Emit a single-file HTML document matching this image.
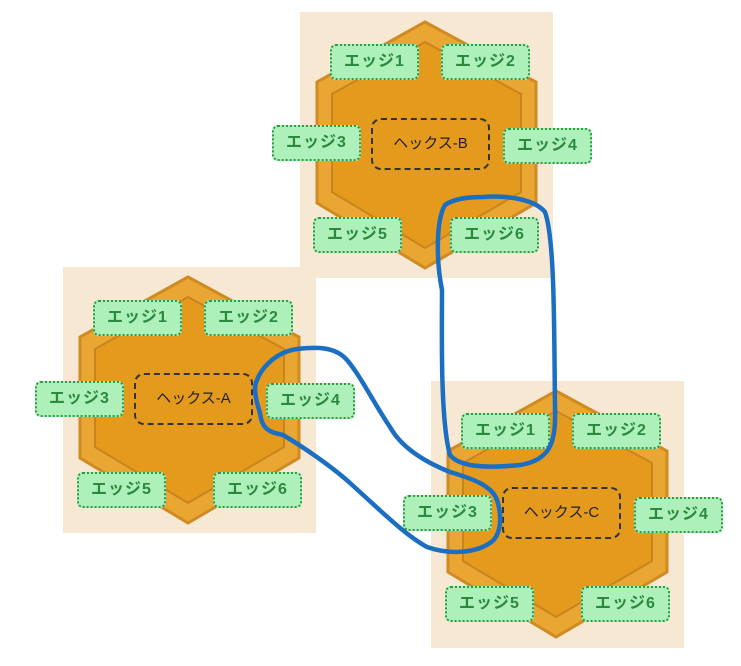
<!DOCTYPE html>
<html><head><meta charset="utf-8"><style>
body{margin:0;width:741px;height:666px;background:#fff;position:relative;overflow:hidden;font-family:"Liberation Sans","Noto Sans CJK JP",sans-serif}
.p{position:absolute;width:253px;height:266px;background:#f7e8d3}
.e{position:absolute;width:85px;height:32px;background:#adf0ba;border:2.5px dotted #2f9a45;border-radius:6px;color:#2b8a3e;font-size:16px;font-weight:600;line-height:32px;text-align:center;letter-spacing:1px}
.h{position:absolute;left:71px;top:106px;width:115px;height:48px;border:2px dashed #333;border-radius:10px;font-size:15px;line-height:48px;text-align:center;color:#222}
svg.hex{position:absolute;left:0;top:0}
</style></head><body>

<div class="p" style="left:300px;top:12px">
<svg class="hex" width="253" height="266"><polygon points="125,10 236,70 236,191 125,256 17,191 17,70" fill="#eaa632" stroke="#cf8a22" stroke-width="3"/><polygon points="125,30 221,82 221,180 125,236 32,180 32,82" fill="#e49a1c" stroke="#c98420" stroke-width="2"/></svg>
<div class="e" style="left:30px;top:32px">エッジ1</div><div class="e" style="left:141px;top:32px">エッジ2</div>
<div class="e" style="left:-28px;top:113px">エッジ3</div><div class="h">ヘックス-B</div>
<div class="e" style="left:203px;top:116px">エッジ4</div>
<div class="e" style="left:13px;top:205px">エッジ5</div><div class="e" style="left:150px;top:205px">エッジ6</div>
</div>

<div class="p" style="left:63px;top:267px">
<svg class="hex" width="253" height="266"><polygon points="125,10 236,70 236,191 125,256 17,191 17,70" fill="#eaa632" stroke="#cf8a22" stroke-width="3"/><polygon points="125,30 221,82 221,180 125,236 32,180 32,82" fill="#e49a1c" stroke="#c98420" stroke-width="2"/></svg>
<div class="e" style="left:30px;top:33px">エッジ1</div><div class="e" style="left:141px;top:33px">エッジ2</div>
<div class="e" style="left:-28px;top:114px">エッジ3</div><div class="h">ヘックス-A</div>
<div class="e" style="left:203px;top:116px">エッジ4</div>
<div class="e" style="left:14px;top:205px">エッジ5</div><div class="e" style="left:150px;top:205px">エッジ6</div>
</div>

<div class="p" style="left:431px;top:381px;height:267px">
<svg class="hex" width="253" height="267"><polygon points="125,10 236,70 236,191 125,256 17,191 17,70" fill="#eaa632" stroke="#cf8a22" stroke-width="3"/><polygon points="125,30 221,82 221,180 125,236 32,180 32,82" fill="#e49a1c" stroke="#c98420" stroke-width="2"/></svg>
<div class="e" style="left:30px;top:32px">エッジ1</div><div class="e" style="left:141px;top:32px">エッジ2</div>
<div class="e" style="left:-28px;top:114px">エッジ3</div><div class="h">ヘックス-C</div>
<div class="e" style="left:203px;top:116px">エッジ4</div>
<div class="e" style="left:14px;top:205px">エッジ5</div><div class="e" style="left:150px;top:205px">エッジ6</div>
</div>

<svg style="position:absolute;left:0;top:0" width="741" height="666">
<path d="M483,197 C510,195 535,200 545,212 C555,240 554,330 555,407 C556,440 552,460 520,465 C490,468 460,468 450,455 C440,420 442,330 442,290 C436,260 436,220 445,205 C455,198 470,197 483,197 Z" fill="none" stroke="#1b6fc2" stroke-width="4.5" stroke-linejoin="round"/>
<path d="M255,387 C258,370 275,352 297,349 C315,347 335,346 347,360 C360,375 375,405 390,427 C400,445 420,460 450,472 C470,478 492,485 497,500 C502,515 502,535 490,543 C475,553 450,555 427,547 C405,535 380,510 350,483 C330,465 300,445 283,435 C270,432 262,430 260,413 C256,400 255,395 255,387 Z" fill="none" stroke="#1b6fc2" stroke-width="4.5" stroke-linejoin="round"/>
</svg>
</body></html>
